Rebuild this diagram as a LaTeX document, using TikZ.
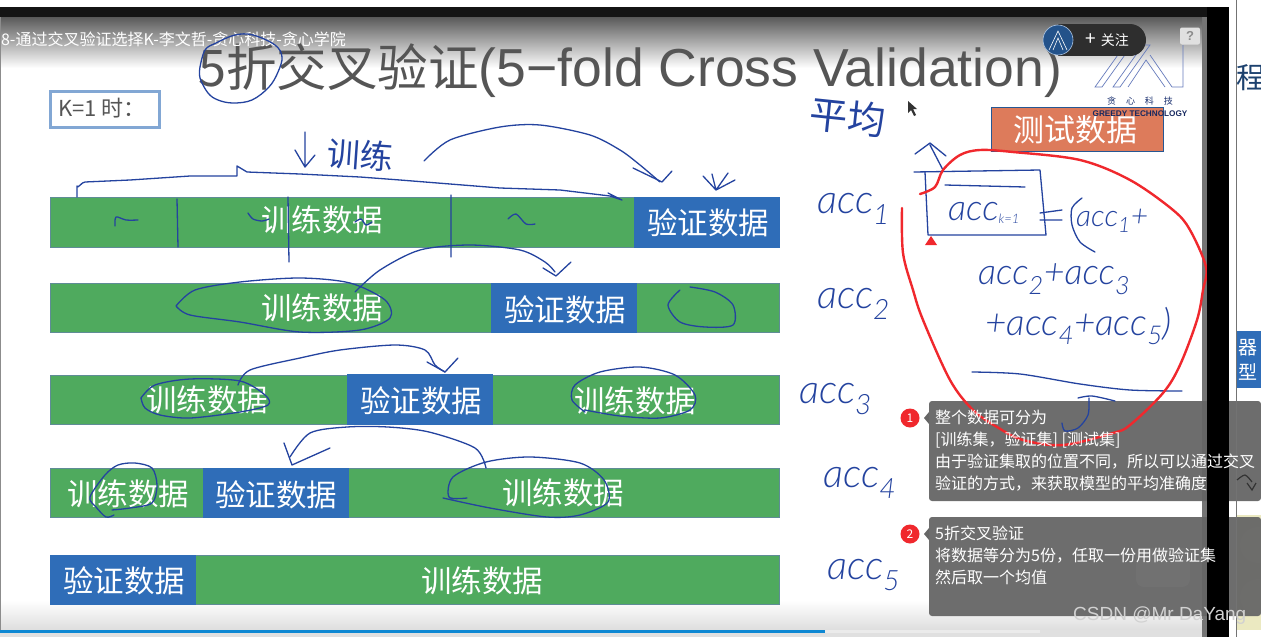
\documentclass[tikz,border=0pt]{standalone}
\usepackage{fontspec}
\setmainfont{Noto Sans CJK SC}
\newfontfamily\latinf{Liberation Sans}
\newfontfamily\handf[ItalicFont=* Light Italic]{Lato}
\usetikzlibrary{shapes.geometric,calc}
\definecolor{barg}{HTML}{4FAA5E}
\definecolor{barb}{HTML}{2F6DB8}
\definecolor{barline}{HTML}{5F8C96}
\definecolor{pen}{HTML}{24439F}
\definecolor{redpen}{HTML}{F0282D}
\definecolor{orangebox}{HTML}{DD7B5B}
\definecolor{tipc}{HTML}{666666}
\definecolor{titlec}{HTML}{555555}
\tikzset{
  greenbar/.style={draw=barline,line width=0.8pt,fill=barg},
  bluebar/.style={draw=barb,line width=0.8pt,fill=barb},
  bartext/.style={text=white,font=\fontsize{30.5}{32}\selectfont,inner sep=0pt},
  ink/.style={draw=pen,line width=1.3pt,line cap=round,line join=round},
  hand/.style={text=pen,inner sep=0pt,font=\handf\itshape\fontsize{#1}{#1}\selectfont},
  hand/.default=36,
  handcjk/.style={text=pen,inner sep=0pt,font=\fontsize{#1}{#1}\selectfont},
  tiptext/.style={text=white,align=left,anchor=north west,inner sep=0pt,font=\fontsize{16}{22}\selectfont},
  tipbox/.style={fill=tipc,fill opacity=0.95,rounded corners=3pt},
  numdot/.style={circle,fill=redpen,minimum size=19pt,inner sep=0pt,text=white,font=\fontsize{12}{12}\selectfont},
}
\begin{document}
\begin{tikzpicture}[x=1pt,y=-1pt]
\useasboundingbox (0,0) rectangle (1261,637);
\clip (0,0) rectangle (1261,637);
% page and slide background
\fill[white] (0,0) rectangle (1261,637);
\fill[black!92] (0,7) rectangle (1229,17);
\shade[top color=black!65,bottom color=white] (0,17) rectangle (1202,68);
\fill[white] (0,68) rectangle (1202,600);
\shade[top color=white,bottom color=black!13] (0,600) rectangle (1202,630);
\fill[black!45] (0,17) rectangle (1,630);
\fill[black!12] (0,630) rectangle (1202,637);
\fill[black!8] (825,630) rectangle (1040,633);
\fill[cyan!70!blue] (0,630) rectangle (825,633);
% right panel
\node[text=barb!60!black,inner sep=0pt,font=\fontsize{29}{29}\selectfont] (cheng) at (1251,78) {程};
\fill[barb] (1236,331) rectangle (1261,388);
\node[text=white,inner sep=0pt,align=center,font=\fontsize{19}{25}\selectfont] (qixing) at (1248,360) {器\\型};
\fill[olive!18] (1236,515) rectangle (1261,630);
\fill[white!88!olive] (1258,545) circle (18) (1258,597) circle (18);
% title
\node[text=titlec,inner sep=0pt,anchor=west,font=\fontsize{50.5}{56}\selectfont] (title) at (198,71) {5折交叉验证{\latinf\fontsize{53.5}{56}\selectfont(5−fold Cross Validation)}};
\node[text=white,inner sep=0pt,anchor=west,font=\fontsize{16}{18}\selectfont] (video) at (-8,39.5) {08-通过交叉验证选择K-李文哲-贪心科技-贪心学院};
% K box
\node[draw=barb!60!white,line width=3pt,fill=white,minimum width=109pt,minimum height=36pt,inner sep=0pt] (kbox) at (105,109.5) {};
\node[text=titlec,inner sep=0pt,anchor=west,font=\fontsize{22}{24}\selectfont] (ktext) at (58,108.5) {K=1 时：};
% bars
\path[greenbar] (50,197) rectangle (634,247);
\path[bluebar] (634,197) rectangle (779,247);
\node[bartext] (r1t) at (322,220) {训练数据};
\node[bartext] (r1v) at (708,223) {验证数据};
\path[greenbar] (50,283) rectangle (779,332);
\path[bluebar] (491,283) rectangle (636,332);
\node[bartext] (r2t) at (322,308) {训练数据};
\node[bartext] (r2v) at (565,310) {验证数据};
\path[greenbar] (50,375) rectangle (779,424);
\path[bluebar] (347,374) rectangle (492,424);
\node[bartext] (r3t) at (207,400) {训练数据};
\node[bartext] (r3v) at (421,401) {验证数据};
\node[bartext] (r3u) at (635,401) {训练数据};
\path[greenbar] (50,468) rectangle (779,517);
\path[bluebar] (203,468) rectangle (348,517);
\node[bartext] (r4t) at (128,494) {训练数据};
\node[bartext] (r4v) at (276,495) {验证数据};
\node[bartext] (r4u) at (563,493) {训练数据};
\path[greenbar] (50,555) rectangle (779,604);
\path[bluebar] (50,555) rectangle (195,604);
\node[bartext] (r5v) at (124,581) {验证数据};
\node[bartext] (r5t) at (482,581) {训练数据};
% test data box
\node[draw=barb!80!black,line width=0.8pt,fill=orangebox,minimum width=172pt,minimum height=44pt,inner sep=0pt] (testbox) at (1077,129) {};
\node[bartext,font=\fontsize{31}{32}\selectfont] (testtext) at (1075,130) {测试数据};
% logo
\draw[pen!70,line width=0.7pt] (1095,87)--(1125,45)--(1132,45)--(1102,87)--cycle (1113,87)--(1143,45)--(1150,45)--(1120,87)--cycle (1128,87)--(1146,60)--(1165,87) (1150,55)--(1172,87)--(1183,87)--(1183,45);
\node[text=pen!70!black,inner sep=0pt,font=\fontsize{9}{10}\selectfont] (logocn) at (1140,101) {贪\hspace{1.1em}心\hspace{1.1em}科\hspace{1.1em}技};
\node[text=pen!60!black,inner sep=0pt,font=\latinf\bfseries\fontsize{8.2}{10}\selectfont] (logoen) at (1140,114) {GREEDY TECHNOLOGY};
% follow pill
\fill[black!82] (1058,24) rectangle (1130,56);
\fill[black!82] (1130,40) circle (16);
\node[circle,fill=barb!75!black,draw=barb!40!white,line width=0.6pt,minimum size=30pt,inner sep=0pt] (avatar) at (1058,40) {};
\draw[white,line width=0.6pt] (1049,50)--(1058,31)--(1067,50) (1053,50)--(1058,38)--(1063,50);
\node[text=white,inner sep=0pt,font=\fontsize{14}{14}\selectfont] (follow) at (1107,40) {{\fontsize{19}{19}\selectfont +}\hspace{5pt}关注};
\node[rounded corners=2pt,fill=black!12,text=black!45,minimum width=20pt,minimum height=17pt,inner sep=0pt,font=\latinf\bfseries\fontsize{13}{13}\selectfont] (qmark) at (1190,36) {?};
% cursor
\fill[black!80] (908,101)--(908,113)--(911,110)--(914,116)--(916,115)--(913,109)--(917,109)--cycle;
% pen strokes on the slide
\draw[ink] plot[smooth,tension=0.6] coordinates {(200,67)(205,50)(216,43)(235,35)(253,35)(275,45)(282,57)(278,72)(269,87)(252,100)(233,103)(218,100)(208,93)(200,78)(200,67)};
\draw[ink] (77,197) -- (77,186) to[out=-80,in=180] (85,182) -- (130,180) -- (190,176) -- (237,176) -- (237,166) -- (247,172) -- (300,174) -- (360,177) -- (400,180) -- (500,188) -- (560,190) -- (610,196) -- (622,200) (608,193)--(622,200);
\draw[ink] plot[smooth] coordinates {(424,161)(450,140)(500,127)(540,125)(590,135)(620,150)(640,165)(660,182)};
\draw[ink] (633,168)--(662,182)--(672,171);
\draw[ink] (305,132)--(305,167) (295,150)--(305,167)--(315,155);
\node[handcjk=33,rotate=-4] (train) at (360,155) {训练};
\draw[ink] (177,199)--(178,247) (288,197)--(289,262) (451,195)--(451,257);
\draw[ink] plot[smooth] coordinates {(115,226)(116,217)(126,220)(138,220)};
\draw[ink] plot[smooth] coordinates {(248,213)(253,219)(262,221)(269,219)};
\draw[ink] plot[smooth] coordinates {(355,222)(361,219)(366,225)(372,222)};
\draw[ink] plot[smooth] coordinates {(508,219)(516,214)(526,224)(535,224)};
\draw[ink] (703,176)--(716,190)--(728,173) (712,174)--(716,190)--(735,180);
\draw[ink] plot[smooth] coordinates {(176,306)(195,290)(240,282)(300,278)(350,283)(385,300)(390,318)(360,330)(300,332)(240,322)(190,315)(176,306)};
\draw[ink] plot[smooth] coordinates {(355,292)(380,270)(420,250)(470,245)(520,250)(545,262)(555,272)};
\draw[ink] (543,268)--(556,276)--(571,262);
\draw[ink] plot[smooth] coordinates {(680,290)(668,305)(680,322)(705,327)(733,325)(733,305)(715,292)(690,287)};
\draw[ink] plot[smooth] coordinates {(141,398)(155,385)(190,379)(240,381)(265,395)(268,405)(240,412)(190,418)(160,415)(145,408)(141,398)};
\draw[ink] plot[smooth] coordinates {(238,385)(250,370)(300,358)(340,350)(395,345)(425,350)(435,365)(445,372)};
\draw[ink] (427,362)--(445,372)--(458,358);
\draw[ink] plot[smooth] coordinates {(585,412)(572,400)(575,385)(600,372)(640,367)(675,375)(695,395)(690,410)(660,418)(620,416)(585,410)};
\draw[ink] plot[smooth] coordinates {(114,515)(106,517)(96,507)(90,497)(105,475)(118,465)(135,463)(152,468)(157,485)(152,503)(130,508)(112,510)};
\draw[ink] plot[smooth] coordinates {(486,468)(475,448)(429,432)(388,427)(347,427)(310,433)(290,457)};
\draw[ink] (284,443)--(292,465)--(330,448);
\draw[ink] plot[smooth] coordinates {(467,498)(449,497)(453,477)(486,462)(530,457)(580,463)(604,480)(608,502)(580,515)(547,517)(490,508)(443,498)};
% hand-written labels
\node[handcjk=38,rotate=-6] (ping) at (848,117) {平均};
\node[hand=40,anchor=west] (acc1) at (817,209) {acc\textsubscript{1}};
\node[hand=40,anchor=west] (acc2) at (817,304) {acc\textsubscript{2}};
\node[hand=40,anchor=west] (acc3) at (799,399) {acc\textsubscript{3}};
\node[hand=40,anchor=west] (acc4) at (823,483) {acc\textsubscript{4}};
\node[hand=40,anchor=west] (acc5) at (827,575) {acc\textsubscript{5}};
\draw[ink] (914,172)--(1040,170)--(1046,235)--(928,235)--(925,172) (945,185)--(1025,187) (1040,213)--(1062,210) (1040,220)--(1062,220);
\draw[ink] (915,154)--(930,143)--(946,156) (930,145)--(943,170);
\node[hand=36,anchor=west] (accbar) at (948,213) {acc\textsubscript{\fontsize{13}{13}\selectfont k=1}};
\draw[ink] plot[smooth] coordinates {(1082,198)(1072,208)(1072,225)(1080,242)(1095,252)};
\node[hand=30,anchor=west] (eq1) at (1076,221) {acc\textsubscript{1}+};
\node[hand=36,anchor=west] (eq2) at (978,279) {acc\textsubscript{2}+acc\textsubscript{3}};
\node[hand=37,anchor=west] (eq3) at (985,326) {+acc\textsubscript{4}+acc\textsubscript{5})};
\draw[ink] plot[smooth] coordinates {(972,372)(1020,374)(1080,384)(1130,390)(1182,391)};
% tooltips
\path[tipbox] (929,401) rectangle (1261,501);
\path[tipbox] (929,517) rectangle (1261,616);
\fill[tipc] (929,412)--(924,418)--(929,424)--cycle;
\fill[tipc] (929,528)--(924,534)--(929,540)--cycle;
% faint play icon seen through the second tooltip
\fill[black!50,opacity=0.25,rounded corners=8pt] (1136,548) rectangle (1190,587);
% pen marks that show through the tooltip
\draw[ink] plot[smooth] coordinates {(1078,398)(1092,396)(1115,401)} ;
\draw[ink] plot[smooth] coordinates {(1089,398)(1088,415)(1078,428)(1065,431)(1062,423)};
% player edge over the tooltips
\fill[black!60,opacity=0.9] (1202,17) rectangle (1207,637);
% red loop
\draw[redpen,line width=2.4pt,line cap=round,line join=round] plot[smooth,tension=0.55] coordinates {(920,194)(935,187)(943,170)(960,155)(980,150)(1013,152)(1080,160)(1130,180)(1173,210)(1190,230)(1206,267)(1203,290)(1197,320)(1180,365)(1163,393)(1130,425)(1113,433)(1063,445)(1023,440)(997,427)(973,410)(950,380)(923,320)(913,290)(903,253)(902,208)};
\fill[redpen] (931,236)--(937,245)--(925,245)--cycle;
\fill[black] (1207,7) rectangle (1229,637);
\fill[black!55] (1236,0) rectangle (1237,637);
\draw[black!80,line width=1.2pt] plot[smooth] coordinates {(1237,480)(1245,475)(1252,482)};
\draw[black!80,line width=1.2pt] (1247,483)--(1252,490)--(1256,483);
\node[numdot] (n1) at (910,418) {1};
\node[numdot] (n2) at (910,534) {2};
\node[tiptext] (tip1) at (935,410) {整个数据可分为\\{}[训练集，验证集] [测试集]\\由于验证集取的位置不同，所以可以通过交叉\\验证的方式，来获取模型的平均准确度};
\node[tiptext] (tip2) at (935,526) {5折交叉验证\\将数据等分为5份，任取一份用做验证集\\然后取一个均值};
\node[text=black!18,inner sep=0pt,anchor=west,font=\latinf\fontsize{19}{20}\selectfont] (csdn) at (1073,616) {CSDN @Mr DaYang};
\end{tikzpicture}
\end{document}
